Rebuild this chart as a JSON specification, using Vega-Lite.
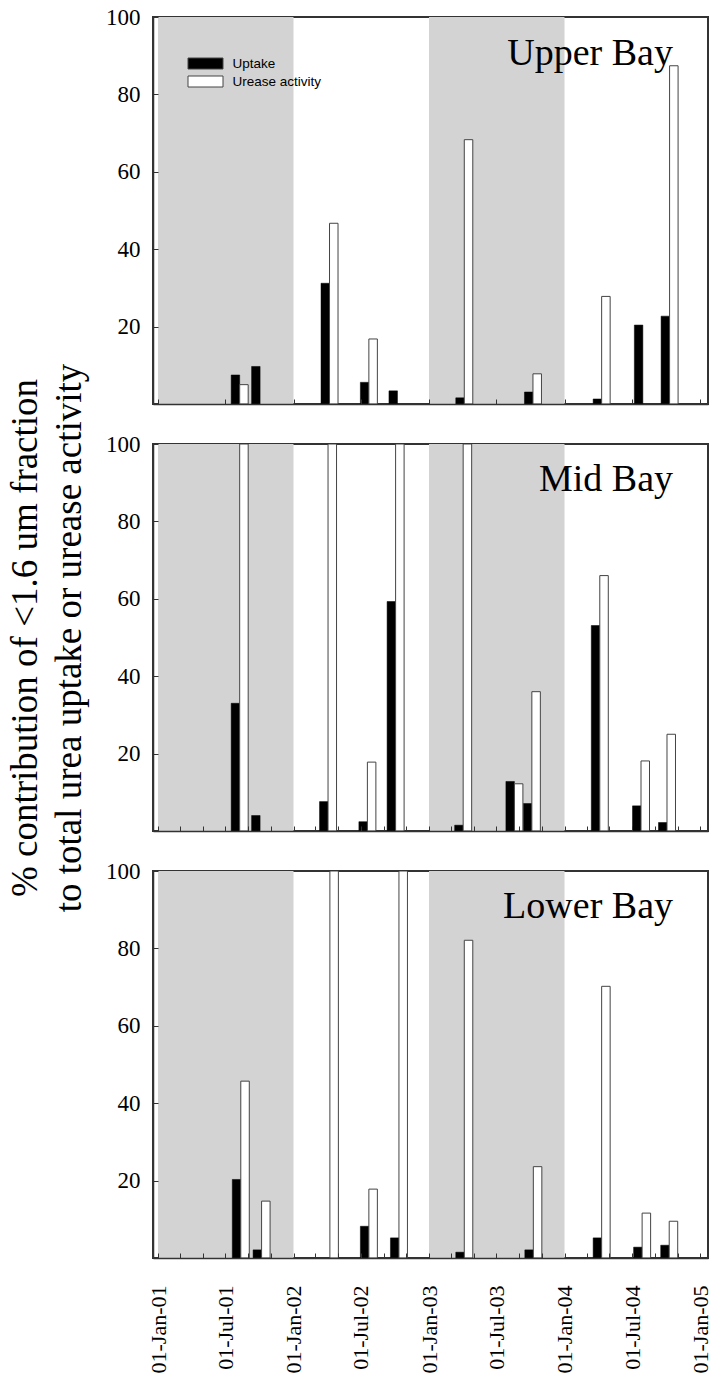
{
  "$schema": "https://vega.github.io/schema/vega-lite/v6.json",
  "background": "white",
  "padding": {"left": 5, "top": 5, "right": 5, "bottom": 5},
  "config": {
    "view": {"stroke": "#333", "strokeWidth": 2},
    "font": "Liberation Serif",
    "axis": {"labelColor": "#000", "tickColor": "#333", "domainColor": "#333", "grid": false, "domainWidth": 1.5}
  },
  "datasets": {
    "seasons": [
      {"start": "2001-01-01", "end": "2002-01-01"},
      {"start": "2003-01-01", "end": "2004-01-01"}
    ],
    "bars": [
      {"bay": "Upper", "date": "2001-08-09", "series": "Uptake", "value": 7.5},
      {"bay": "Upper", "date": "2001-08-09", "series": "Urease activity", "value": 5.0},
      {"bay": "Upper", "date": "2001-10-03", "series": "Uptake", "value": 9.7},
      {"bay": "Upper", "date": "2002-04-08", "series": "Uptake", "value": 31.2},
      {"bay": "Upper", "date": "2002-04-08", "series": "Urease activity", "value": 46.7},
      {"bay": "Upper", "date": "2002-07-23", "series": "Uptake", "value": 5.6},
      {"bay": "Upper", "date": "2002-07-23", "series": "Urease activity", "value": 16.8},
      {"bay": "Upper", "date": "2002-10-08", "series": "Uptake", "value": 3.4},
      {"bay": "Upper", "date": "2003-04-06", "series": "Uptake", "value": 1.6},
      {"bay": "Upper", "date": "2003-04-06", "series": "Urease activity", "value": 68.3},
      {"bay": "Upper", "date": "2003-10-08", "series": "Uptake", "value": 3.1},
      {"bay": "Upper", "date": "2003-10-08", "series": "Urease activity", "value": 7.8},
      {"bay": "Upper", "date": "2004-04-10", "series": "Uptake", "value": 1.3},
      {"bay": "Upper", "date": "2004-04-10", "series": "Urease activity", "value": 27.8},
      {"bay": "Upper", "date": "2004-07-30", "series": "Uptake", "value": 20.4},
      {"bay": "Upper", "date": "2004-10-10", "series": "Uptake", "value": 22.7},
      {"bay": "Upper", "date": "2004-10-10", "series": "Urease activity", "value": 87.4},

      {"bay": "Mid", "date": "2001-08-09", "series": "Uptake", "value": 33.0},
      {"bay": "Mid", "date": "2001-08-09", "series": "Urease activity", "value": 100},
      {"bay": "Mid", "date": "2001-10-03", "series": "Uptake", "value": 4.0},
      {"bay": "Mid", "date": "2002-04-04", "series": "Uptake", "value": 7.6},
      {"bay": "Mid", "date": "2002-04-04", "series": "Urease activity", "value": 100},
      {"bay": "Mid", "date": "2002-07-19", "series": "Uptake", "value": 2.4},
      {"bay": "Mid", "date": "2002-07-19", "series": "Urease activity", "value": 17.8},
      {"bay": "Mid", "date": "2002-10-03", "series": "Uptake", "value": 59.3},
      {"bay": "Mid", "date": "2002-10-03", "series": "Urease activity", "value": 100},
      {"bay": "Mid", "date": "2003-04-03", "series": "Uptake", "value": 1.5},
      {"bay": "Mid", "date": "2003-04-03", "series": "Urease activity", "value": 100},
      {"bay": "Mid", "date": "2003-08-19", "series": "Uptake", "value": 12.8},
      {"bay": "Mid", "date": "2003-08-19", "series": "Urease activity", "value": 12.2},
      {"bay": "Mid", "date": "2003-10-05", "series": "Uptake", "value": 7.1},
      {"bay": "Mid", "date": "2003-10-05", "series": "Urease activity", "value": 36.0},
      {"bay": "Mid", "date": "2004-04-05", "series": "Uptake", "value": 53.1},
      {"bay": "Mid", "date": "2004-04-05", "series": "Urease activity", "value": 66.0},
      {"bay": "Mid", "date": "2004-07-25", "series": "Uptake", "value": 6.5},
      {"bay": "Mid", "date": "2004-07-25", "series": "Urease activity", "value": 18.1},
      {"bay": "Mid", "date": "2004-10-03", "series": "Uptake", "value": 2.2},
      {"bay": "Mid", "date": "2004-10-03", "series": "Urease activity", "value": 25.0},

      {"bay": "Lower", "date": "2001-08-12", "series": "Uptake", "value": 20.3},
      {"bay": "Lower", "date": "2001-08-12", "series": "Urease activity", "value": 45.7},
      {"bay": "Lower", "date": "2001-10-07", "series": "Uptake", "value": 2.1},
      {"bay": "Lower", "date": "2001-10-07", "series": "Urease activity", "value": 14.7},
      {"bay": "Lower", "date": "2002-04-09", "series": "Urease activity", "value": 100},
      {"bay": "Lower", "date": "2002-07-23", "series": "Uptake", "value": 8.2},
      {"bay": "Lower", "date": "2002-07-23", "series": "Urease activity", "value": 17.8},
      {"bay": "Lower", "date": "2002-10-12", "series": "Uptake", "value": 5.2},
      {"bay": "Lower", "date": "2002-10-12", "series": "Urease activity", "value": 100},
      {"bay": "Lower", "date": "2003-04-06", "series": "Uptake", "value": 1.5},
      {"bay": "Lower", "date": "2003-04-06", "series": "Urease activity", "value": 82.1},
      {"bay": "Lower", "date": "2003-10-09", "series": "Uptake", "value": 2.1},
      {"bay": "Lower", "date": "2003-10-09", "series": "Urease activity", "value": 23.6},
      {"bay": "Lower", "date": "2004-04-10", "series": "Uptake", "value": 5.2},
      {"bay": "Lower", "date": "2004-04-10", "series": "Urease activity", "value": 70.2},
      {"bay": "Lower", "date": "2004-07-28", "series": "Uptake", "value": 2.8},
      {"bay": "Lower", "date": "2004-07-28", "series": "Urease activity", "value": 11.6},
      {"bay": "Lower", "date": "2004-10-09", "series": "Uptake", "value": 3.3},
      {"bay": "Lower", "date": "2004-10-09", "series": "Urease activity", "value": 9.5}
    ]
  },
  "spacing": 40,
  "bounds": "flush",
  "resolve": {"scale": {"fill": "independent"}, "legend": {"fill": "independent"}},
  "vconcat": [
    {
      "width": 555,
      "height": 387,
      "title": {"text": "Upper Bay", "anchor": "end", "frame": "group", "orient": "top", "baseline": "alphabetic", "offset": -97, "dx": -35, "font": "Liberation Serif", "fontSize": 38, "fontWeight": "normal", "color": "#000"},
      "layer": [
        {
          "data": {"name": "seasons"},
          "mark": {"type": "rect", "color": "#d3d3d3"},
          "encoding": {
            "x": {"field": "start", "type": "temporal",
              "scale": {"type": "utc", "domain": [{"year": 2001, "month": 1, "date": 1, "utc": true}, {"year": 2005, "month": 1, "date": 8, "utc": true}]},
              "axis": {"title": null, "labels": false, "tickCount": {"interval": "month", "step": 6}, "tickSize": -5, "zindex": 1}},
            "x2": {"field": "end"}
          }
        },
        {
          "data": {"name": "bars"},
          "transform": [{"filter": "datum.bay === 'Upper' && datum.series === 'Uptake'"}],
          "mark": {"type": "bar", "size": 8.5, "xOffset": -4.25, "stroke": "#000", "strokeWidth": 0.5, "clip": true},
          "encoding": {
            "x": {"field": "date", "type": "temporal", "title": null},
            "y": {"field": "value", "type": "quantitative", "scale": {"domain": [0, 100], "nice": false},
              "axis": {"title": null, "values": [0, 20, 40, 60, 80, 100], "labelExpr": "datum.value == 0 ? '' : datum.label", "tickSize": -5, "labelPadding": 18, "labelFontSize": 23, "labelFont": "Liberation Serif", "zindex": 1}},
            "fill": {"field": "series", "type": "nominal", "scale": {"domain": ["Uptake", "Urease activity"], "range": ["#000000", "#ffffff"]},
              "legend": {"title": null, "orient": "none", "legendX": 42, "legendY": 36, "direction": "vertical", "symbolType": "M-1.75,-0.55H1.75V0.55H-1.75Z", "symbolSize": 400, "labelFont": "Liberation Sans", "labelFontSize": 13.5, "labelColor": "#000", "labelOffset": 16.5, "rowPadding": 0, "padding": 0, "symbolStrokeColor": "#444", "symbolStrokeWidth": 1, "symbolOpacity": 1}}
          }
        },
        {
          "data": {"name": "bars"},
          "transform": [{"filter": "datum.bay === 'Upper' && datum.series === 'Urease activity'"}],
          "mark": {"type": "bar", "size": 8.5, "xOffset": 4.25, "stroke": "#444", "strokeWidth": 1, "clip": true},
          "encoding": {
            "x": {"field": "date", "type": "temporal", "title": null},
            "y": {"field": "value", "type": "quantitative", "scale": {"domain": [0, 100], "nice": false},
              "axis": {"title": null, "values": [0, 20, 40, 60, 80, 100], "labelExpr": "datum.value == 0 ? '' : datum.label", "tickSize": -5, "labelPadding": 18, "labelFontSize": 23, "labelFont": "Liberation Serif", "zindex": 1}},
            "fill": {"field": "series", "type": "nominal", "scale": {"domain": ["Uptake", "Urease activity"], "range": ["#000000", "#ffffff"]},
              "legend": {"title": null, "orient": "none", "legendX": 42, "legendY": 36, "direction": "vertical", "symbolType": "M-1.75,-0.55H1.75V0.55H-1.75Z", "symbolSize": 400, "labelFont": "Liberation Sans", "labelFontSize": 13.5, "labelColor": "#000", "labelOffset": 16.5, "rowPadding": 0, "padding": 0, "symbolStrokeColor": "#444", "symbolStrokeWidth": 1, "symbolOpacity": 1}}
          }
        }
      ]
    },
    {
      "width": 555,
      "height": 387,
      "title": {"text": "Mid Bay", "anchor": "end", "frame": "group", "orient": "top", "baseline": "alphabetic", "offset": -166, "dx": -35, "font": "Liberation Serif", "fontSize": 38, "fontWeight": "normal", "color": "#000"},
      "layer": [
        {
          "data": {"name": "seasons"},
          "mark": {"type": "rect", "color": "#d3d3d3"},
          "encoding": {
            "x": {"field": "start", "type": "temporal",
              "scale": {"type": "utc", "domain": [{"year": 2001, "month": 1, "date": 1, "utc": true}, {"year": 2005, "month": 1, "date": 8, "utc": true}]},
              "axis": {"title": null, "labels": false, "tickCount": {"interval": "month", "step": 2}, "tickSize": -5, "zindex": 1}},
            "x2": {"field": "end"}
          }
        },
        {
          "data": {"name": "bars"},
          "transform": [{"filter": "datum.bay === 'Mid' && datum.series === 'Uptake'"}],
          "mark": {"type": "bar", "size": 8.5, "xOffset": -4.25, "fill": "#000", "stroke": "#000", "strokeWidth": 0.5, "clip": true},
          "encoding": {
            "x": {"field": "date", "type": "temporal", "title": null},
            "y": {"field": "value", "type": "quantitative", "scale": {"domain": [0, 100], "nice": false},
              "axis": {"title": ["% contribution of <1.6 um fraction", "to total urea uptake or urease activity"], "titleFont": "Liberation Serif", "titleFontSize": 37, "titleFontWeight": "normal", "titleLineHeight": 44, "titlePadding": 17, "titleColor": "#000", "values": [0, 20, 40, 60, 80, 100], "labelExpr": "datum.value == 0 ? '' : datum.label", "tickSize": -5, "labelPadding": 18, "labelFontSize": 23, "labelFont": "Liberation Serif", "zindex": 1}}
          }
        },
        {
          "data": {"name": "bars"},
          "transform": [{"filter": "datum.bay === 'Mid' && datum.series === 'Urease activity'"}],
          "mark": {"type": "bar", "size": 8.5, "xOffset": 4.25, "fill": "#fff", "stroke": "#444", "strokeWidth": 1, "clip": true},
          "encoding": {
            "x": {"field": "date", "type": "temporal", "title": null},
            "y": {"field": "value", "type": "quantitative", "scale": {"domain": [0, 100], "nice": false},
              "axis": {"title": ["% contribution of <1.6 um fraction", "to total urea uptake or urease activity"], "titleFont": "Liberation Serif", "titleFontSize": 37, "titleFontWeight": "normal", "titleLineHeight": 44, "titlePadding": 17, "titleColor": "#000", "values": [0, 20, 40, 60, 80, 100], "labelExpr": "datum.value == 0 ? '' : datum.label", "tickSize": -5, "labelPadding": 18, "labelFontSize": 23, "labelFont": "Liberation Serif", "zindex": 1}}
          }
        }
      ]
    },
    {
      "width": 555,
      "height": 387,
      "title": {"text": "Lower Bay", "anchor": "end", "frame": "group", "orient": "top", "baseline": "alphabetic", "offset": -96, "dx": -35, "font": "Liberation Serif", "fontSize": 38, "fontWeight": "normal", "color": "#000"},
      "layer": [
        {
          "data": {"name": "seasons"},
          "mark": {"type": "rect", "color": "#d3d3d3"},
          "encoding": {
            "x": {"field": "start", "type": "temporal",
              "scale": {"type": "utc", "domain": [{"year": 2001, "month": 1, "date": 1, "utc": true}, {"year": 2005, "month": 1, "date": 8, "utc": true}]},
              "axis": {"title": null, "tickCount": {"interval": "month", "step": 2}, "tickSize": -5, "zindex": 1, "labelAngle": -90, "labelExpr": "utcmonth(datum.value) % 6 == 0 ? utcFormat(datum.value, '%d-%b-%y') : ''", "labelFontSize": 22, "labelFont": "Liberation Serif", "labelPadding": 32, "labelOverlap": false, "labelFlush": false, "labelBound": false}},
            "x2": {"field": "end"}
          }
        },
        {
          "data": {"name": "bars"},
          "transform": [{"filter": "datum.bay === 'Lower' && datum.series === 'Uptake'"}],
          "mark": {"type": "bar", "size": 8.5, "xOffset": -4.25, "fill": "#000", "stroke": "#000", "strokeWidth": 0.5, "clip": true},
          "encoding": {
            "x": {"field": "date", "type": "temporal", "title": null},
            "y": {"field": "value", "type": "quantitative", "scale": {"domain": [0, 100], "nice": false},
              "axis": {"title": null, "values": [0, 20, 40, 60, 80, 100], "labelExpr": "datum.value == 0 ? '' : datum.label", "tickSize": -5, "labelPadding": 18, "labelFontSize": 23, "labelFont": "Liberation Serif", "zindex": 1}}
          }
        },
        {
          "data": {"name": "bars"},
          "transform": [{"filter": "datum.bay === 'Lower' && datum.series === 'Urease activity'"}],
          "mark": {"type": "bar", "size": 8.5, "xOffset": 4.25, "fill": "#fff", "stroke": "#444", "strokeWidth": 1, "clip": true},
          "encoding": {
            "x": {"field": "date", "type": "temporal", "title": null},
            "y": {"field": "value", "type": "quantitative", "scale": {"domain": [0, 100], "nice": false},
              "axis": {"title": null, "values": [0, 20, 40, 60, 80, 100], "labelExpr": "datum.value == 0 ? '' : datum.label", "tickSize": -5, "labelPadding": 18, "labelFontSize": 23, "labelFont": "Liberation Serif", "zindex": 1}}
          }
        }
      ]
    }
  ]
}
